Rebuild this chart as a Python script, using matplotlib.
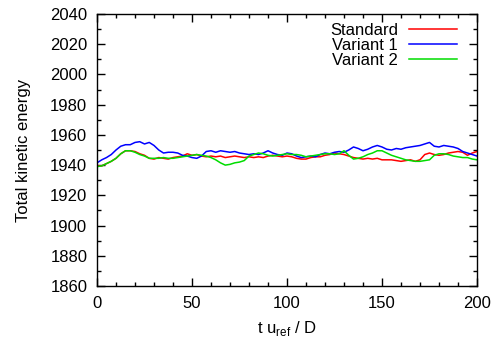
import numpy as np
import matplotlib
matplotlib.use("Agg")
import matplotlib.pyplot as plt
from matplotlib.ticker import MultipleLocator

plt.rcParams['font.family'] = ['Liberation Sans', 'DejaVu Sans']

t = np.arange(0, 200.01, 2.5)

standard = [1939.5, 1939.5, 1941, 1942.5, 1944.5, 1947.5, 1949.5, 1949.5, 1949, 1947.5,
            1946.5, 1944.5, 1944, 1945, 1944.5, 1944, 1945, 1945.5, 1946, 1947.5,
            1946.5, 1947, 1946, 1945.5, 1946, 1945.5, 1946, 1945, 1945.5, 1946,
            1945.5, 1945, 1945.5, 1945, 1945.5, 1945, 1946, 1946.5, 1946, 1945.5,
            1946, 1945.5, 1944.5, 1944, 1944, 1945, 1945.5, 1945.5, 1946.5, 1947,
            1948, 1947.5, 1947, 1946, 1945, 1944.5, 1944, 1944.5, 1944, 1944.5,
            1943.5, 1943.5, 1943.5, 1943, 1942.5, 1943, 1943.5, 1942.5, 1943.5, 1947,
            1948, 1947, 1946.5, 1947, 1948, 1948.5, 1949, 1948.5, 1946.5, 1948, 1949]

variant1 = [1941.5, 1943.5, 1945, 1947, 1950, 1952.5, 1953.5, 1953.5, 1955, 1955.5,
            1954, 1955, 1953, 1950, 1948, 1948.5, 1948.5, 1948, 1946.5, 1946,
            1945, 1944.5, 1946, 1949, 1949.5, 1948.5, 1949.5, 1949, 1948.5, 1949,
            1948, 1947.5, 1947, 1947.5, 1947, 1948, 1949.5, 1948, 1947, 1946.5,
            1948, 1947.5, 1946, 1945, 1945.5, 1946, 1945.5, 1947, 1948, 1947.5,
            1948.5, 1949, 1948.5, 1950, 1952, 1951, 1949.5, 1950.5, 1952, 1953,
            1952, 1950.5, 1950, 1951, 1950.5, 1951.5, 1952, 1952.5, 1953, 1954,
            1955, 1952.5, 1952, 1953, 1952.5, 1952, 1951, 1949, 1948, 1947, 1946]

variant2 = [1939, 1939.5, 1941, 1942.5, 1944.5, 1947.5, 1949.5, 1949.5, 1948.5, 1947,
            1946, 1944.5, 1944.5, 1944.5, 1945, 1944.5, 1944.5, 1945, 1945.5, 1946,
            1946.5, 1947, 1946.5, 1946, 1945, 1943.5, 1941.5, 1940, 1940.5, 1941.5,
            1942, 1943, 1946, 1947, 1948, 1947.5, 1946.5, 1946, 1946.5, 1947,
            1947.5, 1947, 1947, 1946.5, 1945.5, 1946, 1946.5, 1947, 1947.5, 1947.5,
            1947, 1947.5, 1949.5, 1946.5, 1944, 1944.5, 1945.5, 1947, 1948, 1949.5,
            1949.5, 1948, 1946.5, 1945.5, 1944.5, 1943.5, 1943, 1942.5, 1942.5, 1943,
            1943.5, 1946.5, 1947.5, 1947.5, 1947, 1946, 1945.5, 1945, 1945, 1944, 1943.5]

labels = ['Standard', 'Variant 1', 'Variant 2']
colors = ['#ff0000', '#0000ff', '#00dd00']

fig = plt.figure(figsize=(4.96, 3.38), dpi=100)
ax = fig.add_axes([97/496, 1 - 286/338, 380/496, 272/338])

for y, lab, c in zip([standard, variant1, variant2], labels, colors):
    ax.plot(t, y, color=c, lw=1.1, label=lab)

ax.set_xlim(0, 200)
ax.set_ylim(1860, 2040)
ax.xaxis.set_major_locator(MultipleLocator(50))
ax.xaxis.set_minor_locator(MultipleLocator(10))
ax.yaxis.set_major_locator(MultipleLocator(20))
ax.yaxis.set_minor_locator(MultipleLocator(10))
ax.tick_params(which='both', direction='in', top=True, right=True, labelsize=12, width=1)
ax.tick_params(axis='y', pad=7)
ax.tick_params(axis='x', pad=7)
ax.tick_params(which='major', length=6)
ax.tick_params(which='minor', length=3)
for s in ax.spines.values():
    s.set_linewidth(1)

ax.set_ylabel('Total kinetic energy', fontsize=12, labelpad=14)
ax.set_xlabel(r't u$_{\mathregular{ref}}$ / D', fontsize=12, labelpad=6)

leg = ax.legend(loc='upper right', frameon=False, markerfirst=False, fontsize=12,
                handlelength=2.9, handletextpad=0.65, labelspacing=0.0,
                borderpad=0, borderaxespad=0,
                bbox_to_anchor=((457 - 97) / 380, (286 - 23) / 272))

fig.savefig('out.png', dpi=100)
